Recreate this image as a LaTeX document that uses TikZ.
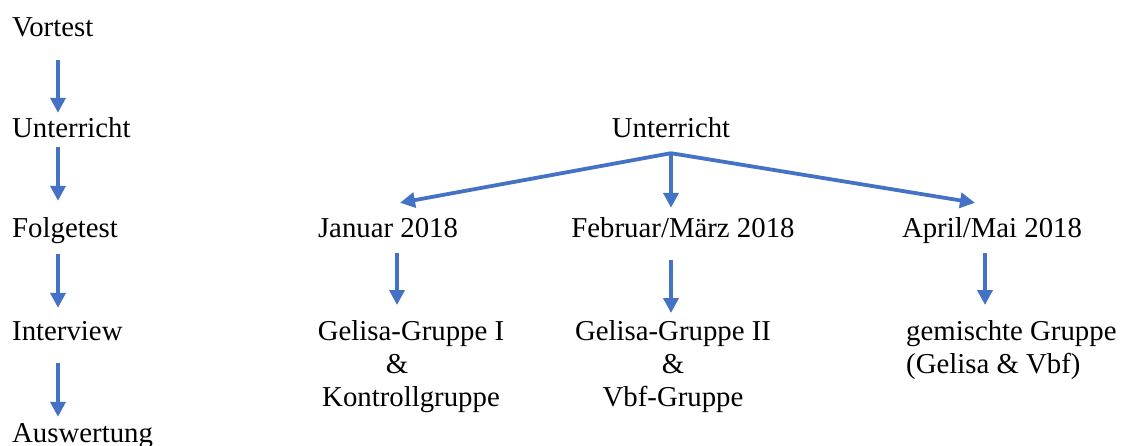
\documentclass[tikz,border=0pt]{standalone}
\usepackage{fontspec}
\setmainfont{Liberation Serif}
\usetikzlibrary{arrows.meta, positioning}
\definecolor{flowblue}{HTML}{4472C4}

\begin{document}
\begin{tikzpicture}[x=1pt, y=-1pt,
        lbl/.style={inner sep=0, font=\fontsize{28.8}{33}\selectfont, text height=20pt, text depth=6pt},
        grp/.style={inner sep=0, font=\fontsize{28.8}{33}\selectfont, anchor=north},
        arrow/.style={-{Triangle[length=15pt, width=15pt]}, line width=3.8pt, flowblue}
    ]
    \useasboundingbox (0,0) rectangle (1121,446);

    % ---- Left column: steps of the study ----
    \node[lbl, anchor=base west] (vor) at (12,  37) {Vortest};
    \node[lbl, anchor=base west] (unt) at (12, 138) {Unterricht};
    \node[lbl, anchor=base west] (fol) at (12, 238) {Folgetest};
    \node[lbl, anchor=base west] (int) at (12, 340) {Interview};
    \node[lbl, anchor=base west] (aus) at (12, 442) {Auswertung};
    \coordinate (colx) at (58, 0);
    \draw[arrow, shorten <=17pt, shorten >=5pt]  (vor.south -| colx) -- (unt.north -| colx);
    \draw[arrow, shorten <=3pt,  shorten >=17pt] (unt.south -| colx) -- (fol.north -| colx);
    \draw[arrow, shorten <=10pt, shorten >=12pt] (fol.south -| colx) -- (int.north -| colx);
    \draw[arrow, shorten <=17pt, shorten >=5pt]  (int.south -| colx) -- (aus.north -| colx);

    % ---- Right part: Unterricht split into three periods ----
    \node[lbl, anchor=base] (untr) at (671, 138) {Unterricht};
    \coordinate (fork) at ([yshift=-9pt]untr.south);
    \node[lbl, anchor=base] (jan) at (388, 238) {Januar 2018};
    \node[lbl, anchor=base] (feb) at (683, 238) {Februar/März 2018};
    \node[lbl, anchor=base] (apr) at (992, 238) {April/Mai 2018};
    \draw[arrow] (fork) -- ([xshift=12pt, yshift=15pt]jan.north);
    \draw[arrow] (fork) -- ([xshift=-12pt, yshift=10pt]feb.north);
    \draw[arrow] (fork) -- ([xshift=-17pt, yshift=15pt]apr.north);

    % groups taught in each period
    \node[grp, align=center] (grpa) at (411, 320) {Gelisa-Gruppe I\\\mbox{\&\hspace{28pt}}\\Kontrollgruppe};
    \node[grp, align=center] (grpb) at (673, 320) {Gelisa-Gruppe II\\\&\\Vbf-Gruppe};
    \node[grp, anchor=north west, align=left] (grpc) at (906, 320) {gemischte Gruppe\\(Gelisa \& Vbf)};
    \draw[arrow, shorten <=9pt,  shorten >=15pt] ([xshift=9pt]jan.south)   -- ([xshift=9pt]jan.south |- grpa.north);
    \draw[arrow, shorten <=16pt, shorten >=7pt]  ([xshift=-12pt]feb.south) -- ([xshift=-12pt]feb.south |- grpb.north);
    \draw[arrow, shorten <=9pt,  shorten >=15pt] ([xshift=-7pt]apr.south)  -- ([xshift=-7pt]apr.south |- grpc.north);

    \end{tikzpicture}
\end{document}
